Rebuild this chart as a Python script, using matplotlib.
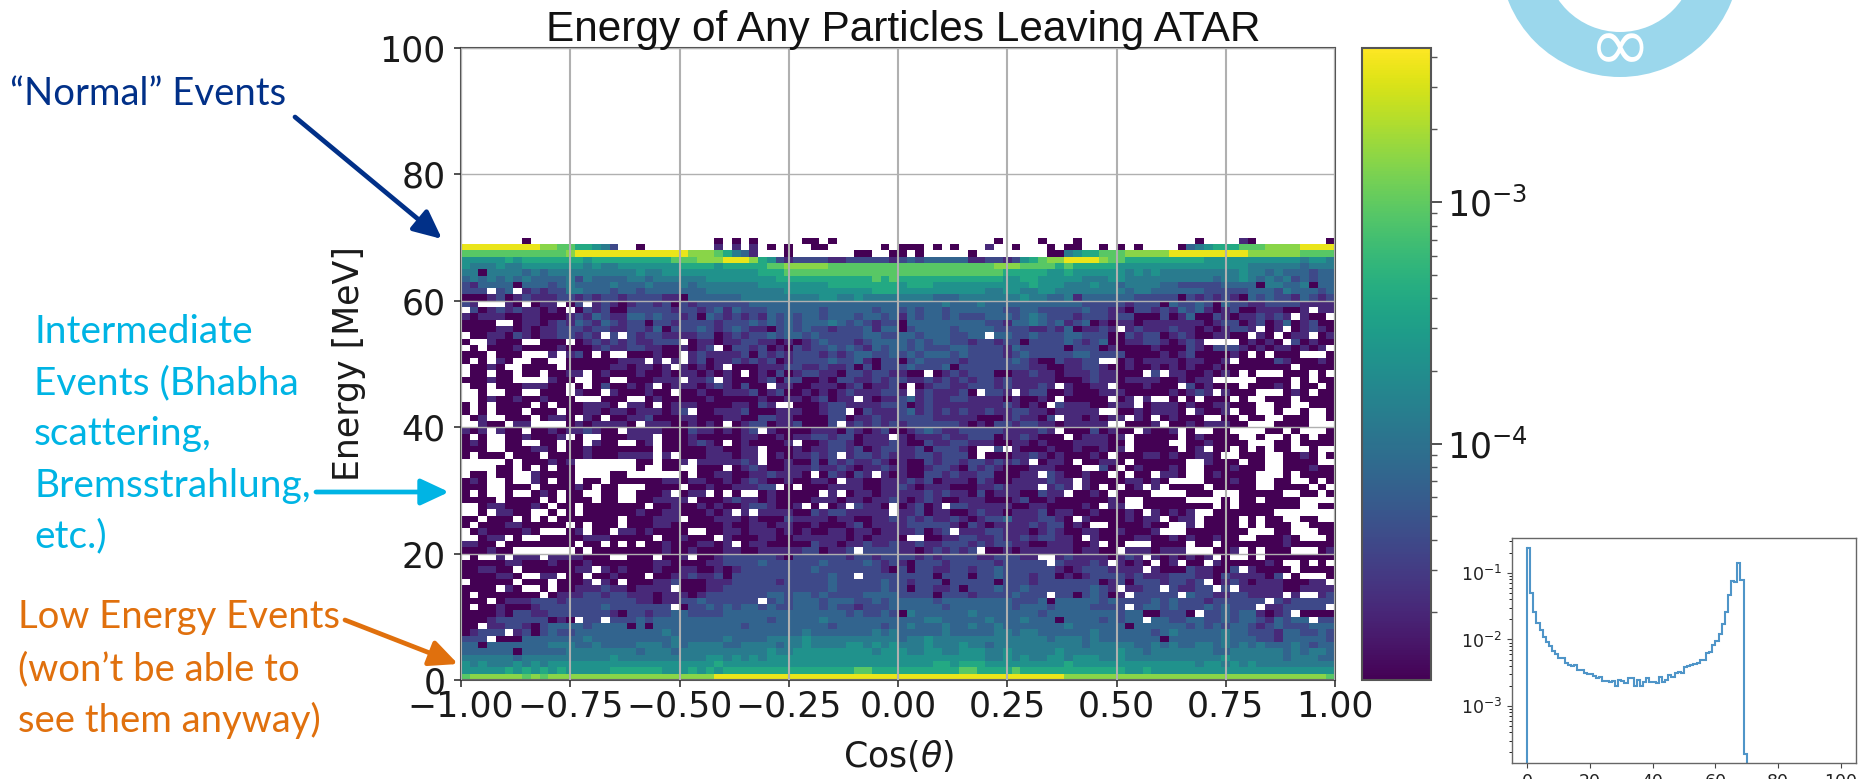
import numpy as np
import matplotlib
matplotlib.use("Agg")
import matplotlib.pyplot as plt
from matplotlib.colors import LogNorm
from matplotlib.patches import Wedge

# Heat-map colour levels, one string per 1 MeV row (top = 69-70 MeV).
# '.' = empty cell, 0..9 = colour step along the colour bar. 100 cells of width 0.02.
HEAT_ROWS = [
".......0.. .......... .........0 .0.0.....0 0.0....... .......... .0....0... 0......... ....0....1 0........0",
"9999999998 8776654 2.. 0........1 .1.1.0.0.. 00......0. 000.0.0... 1..0...0.0 0..0.0.0.. ..03456667 7788889999",
"7777777777 7789999999 9999998887 6431...0.. .....00..0 0.0.....0. .......004 5667778888 8999999999 8888887777",
"5555565666 6666566666 6666777888 9998652122 2211222221 2323333311 2212567889 9998776666 6666655555 5555554554",
"5444544555 5555454455 5555566665 6666677888 8877777777 7777777777 7888777767 6666655555 5555555555 4444443444",
"4404444343 4444444444 5445555555 5555666777 7777777777 7777777777 7766666556 5555554545 4444444445 4434333233",
"3434343433 3342433334 4344444455 5555556666 6666666767 6666666666 6655665555 5444554444 4444443445 4343423233",
"2133330333 2343333433 3433343444 4444555555 5566666666 5666555555 5555565554 4454434444 3322222333 3044334033",
"222.23.121 2244333233 2333333344 4444444555 5555555666 5555555555 4455445544 4444443443 3333322222 3332433323",
"0001201211 1221212212 2221103333 3344444444 4554454444 4444333444 4444544334 1333333222 2202121210 3232213212",
"21...10.01 1.02.12101 2212021222 2223333333 3333333333 3333343334 3333333333 3222221222 0322320322 1122221111",
".201212110 10.0212002 2222122123 1322233333 3233333233 2323323333 3322332222 2322110221 2132310120 0111001.11",
"1011100110 0012132113 3232212032 1212132323 3233323323 1323323222 3332343222 1222122000 2013002101 12121.100.",
"0000..0110 1213213212 2022122221 2223232323 3343232122 0333333333 2213343231 2301011011 1111101220 1201301200",
"0000110101 1222122112 2130222321 2321102323 2212223133 0233332333 3222211213 01121.1211 1211010122 1.01.01210",
".001102101 122121.2.2 1221111220 1212232332 3222223322 3323332233 .332232223 3222002122 0121001100 .10.011.01",
"0..1000..0 00.0121212 11222.0110 1122110101 2322212333 3232332212 2122022223 2123001122 10121....0 1010.20100",
".0.0001000 0100012112 211001012. 0221201021 2232321323 3232223322 2213222220 2220100001 0002102221 010110101.",
"000.000... 1.120.0..0 00100.1211 1120212122 2121233223 2323332322 2212322222 3322220000 1012000010 .0.000...0",
"0.0.10..00 ..00000011 1.1.1.1201 1212120122 2232231022 0232222122 2223210021 122..01011 11011001.0 0002100010",
".0010..000 0.00000110 1101.10101 .000111221 1211202022 2322230222 2222211001 1221001001 0101001000 00000.0000",
".00.00.00. 0011.01000 1001011010 10.0102012 2110221221 100.012122 2001121101 11211000.2 .11001010. 0...000.0.",
"000100.... 100..00..0 00111.112. 1000120220 0102211212 2112121212 2121111100 0121101111 001011.... .0000.0.00",
".00.000111 00.0.02001 01.0111012 10200.1100 1110120112 0.01221122 21211121.1 0011.00010 00.201000. 00010.00.0",
"..0..00..0 00.100.100 0100.00100 1112012001 0101211122 1.1211120. 221.122001 0001110000 010121.100 0...010.00",
"..01001001 000...000. .010000010 0000100110 12011.1011 2312112211 11010010.0 0000.01.1. .0.0.000.0 ..000.0000",
"0.0.0000.0 .0001110.1 10.0111000 011021..00 0122111122 2012111111 1121010.21 1100111.01 1101001100 0..00..000",
"0.0.000.00 0.00110110 111012.001 1120001110 0122.02111 2312121211 2112211011 111..00101 110.1001.0 0..0..0..0",
".01..000.0 110.10.001 1200011000 1100221100 0022011211 2222111110 00121102.1 101011.10. 01000..00. 00..000..0",
"..100.11.. ..01011110 .111001010 .012201120 002.121212 1222222101 0221221101 1111..0001 .001011100 ...0000...",
"101.100.00 10112100.1 1110002110 1012.10000 1110210120 0123211222 22111121.0 0020100.10 01.0..00.. ..00.0...0",
"0.0..00100 01.0..0001 11.0001000 0011001011 221220111. 1011121122 201121000. 011101.000 00.010000. .0..0.0.00",
"010..00..0 0.00.100.. 01.0001210 .0100001.0 0122101112 1002112211 1001101000 111100.000 0..0010000 ...00.0000",
"000..00011 0.00100000 00.0000011 0011.00010 1122120122 112022210. .2.1000100 100101.000 00.01.00.0 .0.00..0..",
"0.000.000. 0000100011 11.1.00011 1011.01011 212.122121 112212220. 0001121010 0010.00011 0100110..0 00..0010.0",
".....0.000 101....... 00.001.111 1121.00100 2021211210 1002122122 12121.0110 .00110.000 000..1000. 00..0000..",
"....00.0.0 .00....... 0..00..000 .012100111 2112101121 1001221021 2100011100 0..20.0100 010..00010 00..000100",
".00.00..10 000....00. .....0.001 1001121110 .021021.10 1002212112 200011.210 0100.0.00. 110..01000 0...0.0000",
"010..0..10 .00.00.000 0001101100 1012100100 110.110011 1212011102 1001111211 .100001101 0....00010 0..00..0.0",
"000..000.0 00010.00.. .0000.0010 011122.0.0 0011110011 2101110001 121111.121 .10.0.01.1 .0000.0000 0..0000.0.",
"0.0..0..01 0.00..00.. 0001.011.0 .0..010000 0.1.011011 1112121102 011100211. 0010.0000. ...000...0 0000..00.0",
"0000.0000. 0.000.00.. 001111.000 1211010000 1110110112 1012100111 0001200100 000010..00 000....0.0 0.0000....",
"..01100010 .00.000000 0.00100101 001221001. 0.01.2110. 01201.2211 1110011000 010.11..00 000000.0.0 000000..00",
"..0.1100.. 0.0.000000 1001100010 1.1.111100 212211111. 1120110012 1101112011 00100010.1 0101..0000 000.......",
"00.000.0.0 .0000000.0 00111.0001 1101000211 1101100112 1212112101 2231112210 .100001011 .011.0000. 0.00..00..",
"0.00011000 00.0.000.0 0011000000 1001101100 1000120111 1222221021 0111121220 10..000010 0..1.0000. 0.000..000",
".01000010. ..01.00.11 010000..00 1101110101 0011011011 112012.111 2211101210 0110010001 ...0000000 ...00...00",
"..011.0..0 0000111000 00.001000. 1000110011 1111010111 0..0011221 1211212211 0.10000110 010100100. .00010...0",
"1100.00000 000.00.0.0 .001000110 1.01100000 2110112112 1121122212 1221100111 001.00...0 000.00.000 0000100000",
"000100.... ...0.00000 0001001000 1100111112 20112.2222 110121212. 0010111111 01100.1110 111...001. 0.000...01",
".0..1.111. 1111000..0 00.001.001 2222221022 2222122122 2212122221 122211..12 11110121.1 010101.0.. 0.00000000",
"0000011000 1000100000 0011000011 2222322222 2322223212 1022212222 2122222.21 1121.1010. 01.00.1000 0010..0.0.",
"001100.000 00011.1010 0010011001 0122222222 3222222210 2022112212 2322222210 12221111.1 000211002. 10000.0000",
"0000110..1 1.00.00100 0.00112112 0222222222 22322.2222 2222022202 2322212201 0122221211 1222110211 1102.0...0",
".00000.000 .0001.10.0 0011200011 1222221222 2232222232 2122202222 2022212222 2220120222 12212.0121 011100011.",
"0000.10..0 .001112110 1111.00011 2222222222 2232222232 2022112022 2322322222 22321.1122 .21122.2.1 1111001111",
"0.0000000. 0111221221 1101110122 2222233233 2322223333 2222022212 2223222.22 023201.222 22.3221122 1111.1..12",
"000.011122 2122222222 1101122322 2222.23233 3233322323 3333233333 3332223033 3332322223 2322212222 22.2122222",
"0.00100012 2222223222 2222.02232 3233232233 3232212223 3333323333 3332333233 332222.233 2322232322 2.1122222.",
"0000102211 2222222102 2122332222 3333333333 3333232232 0433333343 3333332333 3333323300 2220.22323 31012.0000",
"0001222222 010.22.222 3233333333 3333323333 3433333333 3334433333 4333433303 33323233.3 3223322323 3213233.22",
"00.1122102 3333233330 3033333333 3323333333 3323333323 3433343343 3433333334 3333330333 3332323233 2123222333",
"01222.1202 3223333333 3334333333 3333333334 3333333434 3333343333 3443443333 3343333332 3433333433 2221332232",
"222.000333 3333433333 3333433333 4333344445 4444444444 3445444444 4444444344 4343333333 0333333433 3221333332",
"3303333333 4443343333 4443434444 3344443445 4444554545 4445444544 3444444444 4344444334 3433443434 3433343233",
"3333330333 3344444444 3444344444 4444454455 5555555455 5445544555 4454444454 4444454434 4444443344 4444343443",
"4444443444 4444444544 4444444455 4545455555 5555555555 5555555555 4454544554 5554454444 4444444544 4444344433",
"5454445454 5555555555 5555555556 5555555555 5555555555 5555665666 5555555556 5555555555 5555455454 5444444444",
"5555565656 5655555666 6665556565 6666666666 6666677666 6666666776 6667666666 6666665565 5555555555 5555555555",
"7888888787 8888888888 8888888889 9999999999 9999999999 9999999999 9999999998 8888888888 8888888888 8888888887",
]
LEVEL_VALUES = [1.05e-5, 2.1e-5, 4.0e-5, 7.2e-5, 1.25e-4, 2.2e-4, 4.0e-4, 9.0e-4, 1.5e-3, 3.6e-3]

# Inset: 1 MeV histogram
HIST_VALUES = [
0.24, 0.05, 0.026, 0.018, 0.014, 0.011, 0.0092, 0.008, 0.0068, 0.006,
0.0053, 0.0053, 0.0045, 0.0042, 0.004, 0.0041, 0.0035, 0.0035, 0.0031, 0.003,
0.003, 0.0028, 0.0026, 0.0027, 0.0024, 0.0024, 0.0023, 0.0024, 0.002, 0.0025,
0.0024, 0.0022, 0.0026, 0.0026, 0.002, 0.0025, 0.002, 0.0023, 0.0026, 0.0023,
0.0023, 0.0022, 0.0027, 0.0023, 0.0025, 0.0029, 0.0027, 0.0031, 0.0032, 0.0031,
0.0038, 0.004, 0.0042, 0.0043, 0.0045, 0.005, 0.005, 0.0063, 0.0065, 0.0082,
0.0094, 0.012, 0.017, 0.026, 0.047, 0.075, 0.072, 0.14, 0.078, 0.00019,
]
X_TICKS = [-1.0, -0.75, -0.5, -0.25, 0.0, 0.25, 0.5, 0.75, 1.0]
Y_TICKS = [0, 20, 40, 60, 80, 100]
TITLE = "Energy of Any Particles Leaving ATAR"
NORMAL_TEXT = "\u201cNormal\u201d Events"
INTERMEDIATE_LINES = ["Intermediate", "Events (Bhabha", "scattering,", "Bremsstrahlung,", "etc.)"]
LOW_LINES = ["Low Energy Events", "(won\u2019t be able to", "see them anyway)"]

W, H = 1865, 779
plt.rcParams["font.family"] = "DejaVu Sans"
fig = plt.figure(figsize=(W / 100, H / 100), dpi=100, facecolor="white")

def rect(x0, y0, x1, y1):
    return [x0 / W, 1 - y1 / H, (x1 - x0) / W, (y1 - y0) / H]

# main heat map
grid = np.full((100, 100), np.nan)
for i, row in enumerate(HEAT_ROWS):
    s = row.replace(" ", "").ljust(100, ".")[:100]
    for j, c in enumerate(s):
        if c != ".":
            grid[69 - i, j] = LEVEL_VALUES[int(c)]
xedges = np.linspace(-1, 1, 101)
yedges = np.linspace(0, 100, 101)

ax = fig.add_axes(rect(461, 48, 1335, 680))
norm = LogNorm(vmin=1.05e-5, vmax=4.35e-3)
mesh = ax.pcolormesh(xedges, yedges, np.ma.masked_invalid(grid), cmap="viridis", norm=norm)
ax.set_xlim(-1, 1)
ax.set_ylim(0, 100)
ax.set_xticks(X_TICKS)
ax.set_xticklabels(["\u22121.00", "\u22120.75", "\u22120.50", "\u22120.25", "0.00", "0.25", "0.50", "0.75", "1.00"])
ax.set_yticks(Y_TICKS)
ax.tick_params(axis="x", labelsize=25, length=5, width=1.2, color="#333333", labelcolor="#1a1a1a", pad=2)
ax.tick_params(axis="y", labelsize=25, length=5, width=1.2, color="#333333", labelcolor="#1a1a1a", pad=6)
ax.xaxis.grid(True, color="#b0b0b0", lw=1.5)
ax.yaxis.grid(True, color="#b0b0b0", lw=1.0)
ax.set_axisbelow(False)
for s in ax.spines.values():
    s.set_color("#555555")
    s.set_linewidth(1.5)
ax.set_xlabel(r"Cos($\theta$)", fontsize=25, color="#1a1a1a", labelpad=10.6)
ax.set_ylabel("Energy [MeV]", fontsize=25, color="#1a1a1a", labelpad=10)

# colour bar
cax = fig.add_axes(rect(1362, 48, 1431, 680))
cb = fig.colorbar(mesh, cax=cax)
cax.tick_params(which="major", labelsize=25, length=8, width=1.2, color="#333333", labelcolor="#1a1a1a")
cax.tick_params(which="minor", length=4, width=1.0, color="#555555")
cb.outline.set_edgecolor("#555555")
cb.outline.set_linewidth(1.5)

# inset histogram
iax = fig.add_axes(rect(1512, 538, 1856, 763))
edges = np.arange(0, len(HIST_VALUES) + 1)
iax.stairs(HIST_VALUES + [0.0], np.arange(0, len(HIST_VALUES) + 2), color="#4f95c8", lw=1.5, baseline=None)
iax.plot([edges[0], edges[0]], [1e-6, HIST_VALUES[0]], color="#4f95c8", lw=1.5)
iax.set_yscale("log")
iax.set_xlim(-4.8, 110 - 5.2)
iax.set_ylim(10 ** -3.857, 10 ** -0.474)
iax.set_xticks([0, 20, 40, 60, 80, 100])
iax.tick_params(labelsize=12.5, color="#444444", labelcolor="#222222", length=3.5)
for s in iax.spines.values():
    s.set_color("#666666")
    s.set_linewidth(1.0)

# overlay for slide annotations, in reference pixel coordinates
ov = fig.add_axes([0, 0, 1, 1], zorder=10)
ov.set_xlim(0, W)
ov.set_ylim(H, 0)
ov.axis("off")
ov.patch.set_alpha(0)

ov.add_patch(Wedge((1620, -43), 120, 0, 360, width=45, facecolor="#9bd7ec", edgecolor="none"))
ov.text(1620, 50, "\u221e", color="white", fontsize=54, ha="center", va="center", family="DejaVu Sans", clip_on=False)

ov.text(903, 41, TITLE, fontsize=30.5, family="Liberation Sans", ha="center", va="baseline", color="#111111")

NAVY, CYAN, ORANGE = "#013088", "#00b4e4", "#e0700d"
ov.text(10, 105, NORMAL_TEXT, fontsize=27.5, family="Lato", color=NAVY, va="baseline")
for t, yb in zip(INTERMEDIATE_LINES, [343, 394, 445, 497, 547]):
    ov.text(34, yb, t, fontsize=28, family="Lato", color=CYAN, va="baseline")
for t, yb in zip(LOW_LINES, [628, 680, 732]):
    ov.text(18, yb, t, fontsize=27.5, family="Lato", color=ORANGE, va="baseline")

for start, end, c in [((295, 117), (442, 239), NAVY), ((316, 492), (449, 492), CYAN), ((345, 620), (458, 664), ORANGE)]:
    ov.annotate("", xy=end, xytext=start,
                arrowprops=dict(arrowstyle="-|>,head_width=0.42,head_length=0.9", color=c, lw=3.4,
                                mutation_scale=19, shrinkA=0, shrinkB=0))

fig.savefig("out.png", dpi=100, facecolor="white")
